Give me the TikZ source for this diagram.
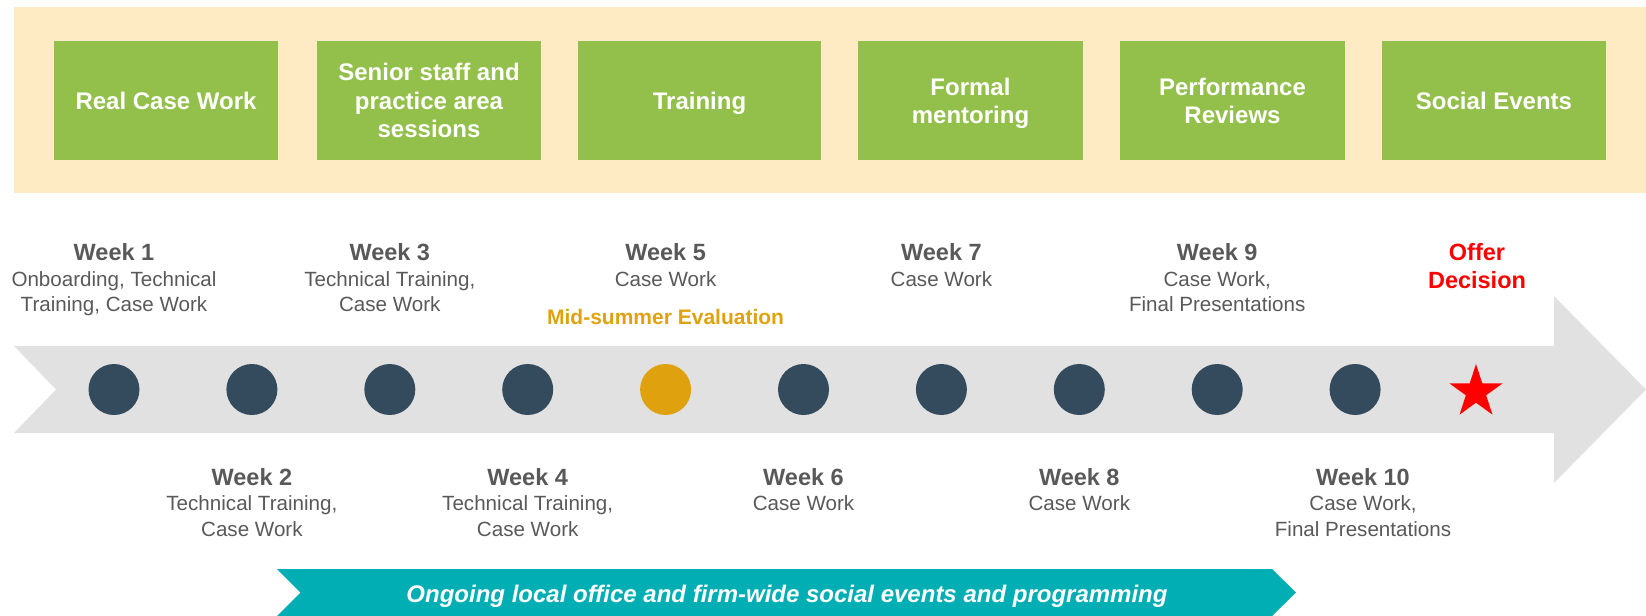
\documentclass[tikz,border=0pt]{standalone}
\usepackage{fontspec}
\setmainfont{Liberation Sans}
\usetikzlibrary{shapes.geometric}
\definecolor{bgbeige}{HTML}{FEEAC3}
\definecolor{boxgreen}{HTML}{93BF4B}
\definecolor{dotblue}{HTML}{334B5C}
\definecolor{evalorange}{HTML}{DFA20E}
\definecolor{arrowgray}{HTML}{E1E1E1}
\definecolor{bandteal}{HTML}{00AEB3}
\definecolor{textgray}{HTML}{595959}

\begin{document}
\begin{tikzpicture}[x=0.5pt, y=-0.5pt,
        box/.style={fill=boxgreen, text=white, align=center, inner sep=0pt, text depth=0pt, minimum height=59.5pt, font=\bfseries\fontsize{12}{14.15}\selectfont},
        dot/.style={circle, inner sep=0pt, minimum size=25.5pt},
        weeklabel/.style={anchor=north, align=center, inner sep=0pt, text=textgray, font=\fontsize{10.3}{12.7}\selectfont}]
    \useasboundingbox (0,0) rectangle (1646,616);
    \fill[bgbeige] (14,7) rectangle (1646,193);
    \foreach \n/\x/\w/\txt in {1/166/112/{Real Case Work}, 2/429/112/{Senior staff and\\practice area\\sessions},
            3/699.5/121.5/{Training}, 4/970.5/112.5/{Formal\\mentoring}, 5/1232.5/112.5/{Performance\\Reviews},
            6/1494/112/{Social Events}} {
        \node[box, minimum width=\w pt] (box\n) at (\x,100.5) {\txt};
    }

    \fill[arrowgray] (14,346) -- (1554,346) -- (1554,296) -- (1646,389.5) -- (1554,483)
        -- (1554,433) -- (14,433) -- (56,389.5) -- cycle;
    \foreach \i/\c in {1/dotblue, 2/dotblue, 3/dotblue, 4/dotblue, 5/evalorange,
            6/dotblue, 7/dotblue, 8/dotblue, 9/dotblue, 10/dotblue} {
        \node[dot, fill=\c] (wk\i) at ({114+137.9*(\i-1)},389.5) {};
    }
    \node[star, star points=5, star point ratio=2.618, fill=red, inner sep=0pt, minimum size=28pt] (offer) at (1476,392) {};

    \foreach \i/\x/\y/\txt in {1/114/243.5/{Onboarding, Technical\\Training, Case Work},
            2/251.9/468/{Technical Training,\\Case Work}, 3/389.8/243.5/{Technical Training,\\Case Work},
            4/527.7/468/{Technical Training,\\Case Work}, 5/665.6/243.5/{Case Work},
            6/803.5/468/{Case Work}, 7/941.4/243.5/{Case Work}, 8/1079.3/468/{Case Work},
            9/1217.2/243.5/{Case Work,\\Final Presentations}, 10/1363/468/{Case Work,\\Final Presentations}} {
        \node[weeklabel] (lbl\i) at (\x,\y) {{\bfseries\fontsize{11.75}{12.7}\selectfont Week \i}\\\txt};
    }
    \node[anchor=north, inner sep=0pt, text=evalorange, font=\bfseries\fontsize{10.5}{12.7}\selectfont] (eval) at (665.6,308.5) {Mid-summer Evaluation};
    \node[anchor=north, align=center, inner sep=0pt, text=red, font=\bfseries\fontsize{11.75}{14}\selectfont] (decision) at (1477,243.5) {Offer\\Decision};

    \fill[bandteal] (277,569) -- (1272,569) -- (1296,592.5) -- (1272,616) -- (277,616) -- (300.5,592.5) -- cycle;
    \node[text=white, font=\bfseries\itshape\fontsize{12}{14}\selectfont] (social) at (787,596) {Ongoing local office and firm-wide social events and programming};
\end{tikzpicture}
\end{document}
